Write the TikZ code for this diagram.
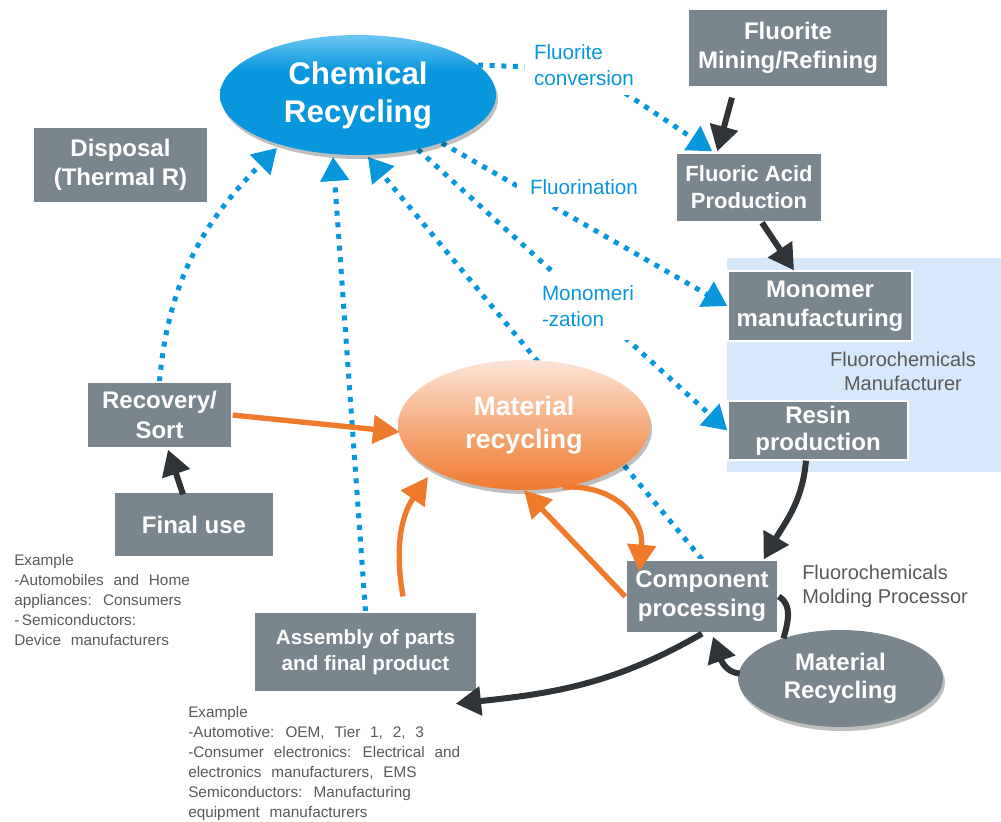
\documentclass[tikz,border=0pt]{standalone}
\usepackage{fontspec}
\setmainfont{Liberation Sans}
\newfontfamily\widefont[WordSpace=2.3]{Liberation Sans}
\usetikzlibrary{arrows.meta,shapes.geometric,calc,shadows}
\definecolor{boxgray}{HTML}{7A868E}
\definecolor{darkarrow}{HTML}{2F3438}
\definecolor{chemblue}{HTML}{0896DC}
\definecolor{chemlight}{HTML}{6CC6F2}
\definecolor{orangearr}{HTML}{F07A2C}
\definecolor{orgbot}{HTML}{F07A2E}
\definecolor{orgmid}{HTML}{F5A878}
\definecolor{peach}{HTML}{FCE5D8}
\definecolor{regionblue}{HTML}{D5E9FB}
\definecolor{notegray}{HTML}{595959}
\pgfdeclareverticalshading{chemshade}{100bp}{color(0bp)=(chemblue); color(25bp)=(chemblue); color(60bp)=(chemblue); color(75bp)=(chemlight); color(100bp)=(chemlight)}
\pgfdeclareverticalshading{orangeshade}{100bp}{color(0bp)=(orgbot); color(25bp)=(orgbot); color(48bp)=(orgmid); color(75bp)=(peach); color(100bp)=(peach)}
\pgfdeclarelayer{back}
\pgfdeclarelayer{lines}
\pgfsetlayers{back,lines,main}
\begin{document}
\begin{tikzpicture}[x=0.75pt,y=0.75pt,
  box/.style={fill=boxgray,draw=white,line width=1pt,text=white,align=center,inner sep=0pt,
    font={\bfseries\fontsize{18}{21.75}\selectfont}},
  shadowed/.style={drop shadow={shadow xshift=1.5pt,shadow yshift=-3pt,opacity=0.25,fill=black}},
  bluelabel/.style={fill=white,text=chemblue,font={\fontsize{15.5}{19.5}\selectfont}},
  note/.style={text=notegray,font={\fontsize{15}{18}\selectfont}},
  example/.style={text=notegray,anchor=west,align=left,inner sep=0pt,font={\widefont\fontsize{11.5}{15}\selectfont}},
  bluearr/.style={draw=chemblue,line width=3.75pt,dash pattern=on 3.75pt off 5pt,
    -{Triangle[length=18pt,width=21pt]}},
  blackarr/.style={draw=darkarrow,line width=4.5pt,-{Triangle[length=19pt,width=21pt]}},
  blackline/.style={draw=darkarrow,line width=4.5pt},
  orangearrow/.style={draw=orangearr,line width=4pt,-{Triangle[length=20pt,width=21pt]}}
]
\useasboundingbox (0,0) rectangle (1001,-822);

% region
\begin{pgfonlayer}{back}
\node[fill=regionblue,minimum width=205.5pt,minimum height=160.5pt,inner sep=0pt] (region) at (864,-365) {};
\end{pgfonlayer}

% boxes
\node[box,minimum width=150pt,minimum height=58.5pt] (mining) at (788,-48) {\raisebox{-3pt}{\parbox{140pt}{\centering Fluorite\\Mining/Refining}}};
\node[box,minimum width=109.5pt,minimum height=51.75pt,font={\bfseries\fontsize{16.5}{20.25}\selectfont}] (acid) at (749,-187.5) {Fluoric Acid\\Production};
\node[box,minimum width=138pt,minimum height=52.5pt] (monomer) at (820,-306) {Monomer\\manufacturing};
\node[box,minimum width=135pt,minimum height=44.25pt,font={\bfseries\fontsize{18}{20.25}\selectfont}] (resin) at (818,-430.5) {Resin\\production};
\node[box,minimum width=114pt,minimum height=54.75pt] (comp) at (702,-596.5) {Component\\processing};
\node[box,minimum width=131.25pt,minimum height=57pt] (disposal) at (120.5,-165) {Disposal\\(Thermal R)};
\node[box,minimum width=108.75pt,minimum height=49.5pt,font={\bfseries\fontsize{18}{23}\selectfont}] (recovery) at (159.5,-415) {Recovery/\\Sort};
\node[box,minimum width=120pt,minimum height=48.75pt] (final) at (194,-524.5) {Final use};
\node[box,minimum width=167.25pt,minimum height=60pt,font={\bfseries\fontsize{15.5}{19}\selectfont}] (assembly) at (365.5,-652) {Assembly of parts\\and final product};

% ellipses
\node[ellipse,shadowed,shading=chemshade,shade,inner sep=0pt,minimum width=207pt,minimum height=90pt,
  text=white,align=center,font={\bfseries\fontsize{23.5}{28.5}\selectfont}] (chem) at (358,-95) {Chemical\\Recycling};
\node[ellipse,shadowed,shading=orangeshade,shade,inner sep=0pt,minimum width=189pt,minimum height=97.5pt,
  text=white,align=center,font={\bfseries\fontsize{20}{24.75}\selectfont}] (orange) at (524,-425) {Material\\recycling};
\node[ellipse,shadowed,fill=boxgray,inner sep=0pt,minimum width=153.75pt,minimum height=72.75pt,
  text=white,align=center,font={\bfseries\fontsize{18}{21}\selectfont}] (grayell) at (840.5,-678.5) {Material\\Recycling};

% blue labels
\node[bluelabel,align=left,text width=76.5pt,inner xsep=6.75pt,inner ysep=0pt,minimum height=45pt] (lblconv) at (585,-65) {Fluorite\\conversion};
\node[bluelabel,minimum width=101.25pt,minimum height=30pt,inner sep=0pt] (lblfluor) at (584,-187) {Fluorination};
\node[bluelabel,align=left,text width=73.5pt,inner xsep=3.75pt,inner ysep=0pt,minimum height=51pt] (lblmono) at (591,-306) {Monomeri\\-zation};

% notes
\node[note,align=center] (fmnote) at (903,-371) {Fluorochemicals\\Manufacturer};
\node[note,align=left,anchor=west,inner sep=0pt] (molnote) at (802,-586) {Fluorochemicals\\Molding Processor};
\node[example] (ex1) at (14,-600) {Example\\-Automobiles and Home\\appliances: Consumers\\-\,Semiconductors:\\Device manufacturers};
\node[example] (ex2) at (188,-764) {Example\\-Automotive: OEM, Tier 1, 2, 3\\-Consumer electronics: Electrical and\\electronics manufacturers, EMS\\Semiconductors: Manufacturing\\equipment manufacturers};

% blue dotted connectors
\begin{pgfonlayer}{lines}
\draw[bluearr] (recovery.north) to[out=85,in=225] ($(chem.center)+(-81,-53)$);
\draw[bluearr] (assembly.north) -- ($(chem.center)+(-25,-62)$);
\draw[bluearr] (comp.north) -- ($(chem.center)+(10,-62)$);
\draw[bluearr] (chem.14) -- (560,-68) -- (625,-93) -- ($(acid.north west)+(37,1)$);
\draw[bluearr] (chem) -- (monomer.west);
\draw[bluearr] (chem) -- (resin.west);
\end{pgfonlayer}

% black connectors
\draw[blackarr] ($(mining.south)+(-56,-10)$) -- ($(acid.north west)+(42,1)$);
\draw[blackarr] ($(acid.south)+(13,0)$) -- ($(monomer.north)+(-26,0)$);
\draw[blackarr] ($(final.north)+(-11,-3)$) -- ($(recovery.south)+(8.5,-1)$);
\draw[blackarr] ($(resin.south)+(-12,0)$) to[out=-95,in=60] ($(comp.north east)+(-15,0)$);
\draw[blackarr] (comp.south) to[out=-150,in=6] ($(assembly.south east)+(-22,-11)$);
\draw[blackarr] ($(grayell.west)+(2,5)$) to[out=175,in=-70] ($(comp.south)+(11,-3)$);
\draw[blackline] (comp.east) to[out=-30,in=75] ($(grayell.center)+(-57,40)$);

% orange connectors
\draw[orangearrow] (recovery.east) -- ($(orange.west)+(2,-7)$);
\draw[orangearrow] ($(assembly.north)+(37.5,15)$) to[out=100,in=-125] ($(orange.center)+(-96,-52)$);
\draw[orangearrow] (comp.west) -- (orange.south);
\draw[orangearrow] (orange.-58) to[out=3,in=85,looseness=1.2] ($(comp.north west)+(14,-12)$);
\end{tikzpicture}
\end{document}
